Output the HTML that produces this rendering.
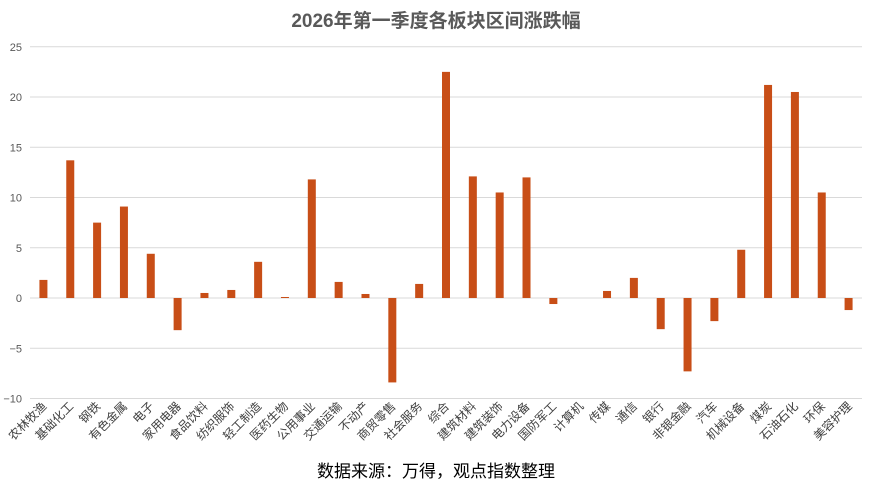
<!DOCTYPE html>
<html><head><meta charset="utf-8">
<style>
html,body{margin:0;padding:0;background:#fff;}
body{width:872px;height:497px;overflow:hidden;font-family:"Liberation Sans","Noto Sans CJK SC",sans-serif;}
</style></head>
<body>
<svg id="chart" width="872" height="497" xmlns="http://www.w3.org/2000/svg" font-family="Liberation Sans, Noto Sans CJK SC, sans-serif">
<text x="436" y="27" text-anchor="middle" font-size="19" font-weight="bold" fill="#595959">2026年第一季度各板块区间涨跌幅</text>
<g id="grid"></g>
<g id="bars"></g>
<g id="xlabels"></g>
<text x="436" y="477" text-anchor="middle" font-size="17" fill="#000">数据来源：万得，观点指数整理</text>
</svg>
<script>
const categories=["农林牧渔","基础化工","钢铁","有色金属","电子","家用电器","食品饮料","纺织服饰","轻工制造","医药生物","公用事业","交通运输","不动产","商贸零售","社会服务","综合","建筑材料","建筑装饰","电力设备","国防军工","计算机","传媒","通信","银行","非银金融","汽车","机械设备","煤炭","石油石化","环保","美容护理"];
const values=[1.8,13.7,7.5,9.1,4.4,-3.2,0.5,0.8,3.6,0.1,11.8,1.6,0.4,-8.4,1.4,22.5,12.1,10.5,12.0,-0.6,0,0.7,2.0,-3.1,-7.3,-2.3,4.8,21.2,20.5,10.5,-1.2];
const yTicks=[-10,-5,0,5,10,15,20,25];
const NS="http://www.w3.org/2000/svg";
const left=30,right=862,y0=298,ppu=10.05;
const step=(right-left)/categories.length;
function y(v){return y0-v*ppu;}
function x(i){return left+step*(i+0.5);}
const grid=document.getElementById('grid');
yTicks.forEach(t=>{
  const l=document.createElementNS(NS,'line');
  
  
  l.setAttribute('x1',left);l.setAttribute('x2',right);
  l.setAttribute('y1',y(t));l.setAttribute('y2',y(t));
  l.setAttribute('stroke','#d9d9d9');l.setAttribute('stroke-width','1');
  grid.appendChild(l);
  const tx=document.createElementNS(NS,'text');
  
  
  tx.setAttribute('x',22);tx.setAttribute('y',y(t)+4);
  tx.setAttribute('text-anchor','end');tx.setAttribute('font-size','11');tx.setAttribute('fill','#595959');
  tx.textContent=t<0?'−'+(-t):String(t);
  grid.appendChild(tx);
});
const bars=document.getElementById('bars'),xl=document.getElementById('xlabels');
categories.forEach((c,i)=>{
  const v=values[i];
  const r=document.createElementNS(NS,'rect');
  
  
  r.setAttribute('x',x(i)-4);r.setAttribute('width',8);
  r.setAttribute('y',Math.min(y(v),y0));r.setAttribute('height',Math.abs(v)*ppu);
  r.setAttribute('fill','#C84E17');
  bars.appendChild(r);
  const t=document.createElementNS(NS,'text');
  
  
  const lx=x(i)+4,ly=407;
  t.setAttribute('x',lx);t.setAttribute('y',ly);
  t.setAttribute('text-anchor','end');t.setAttribute('font-size','12');t.setAttribute('fill','#404040');
  t.setAttribute('transform','rotate(-45 '+lx+' '+ly+')');
  t.textContent=c;
  xl.appendChild(t);
});
</script>
</body></html>
